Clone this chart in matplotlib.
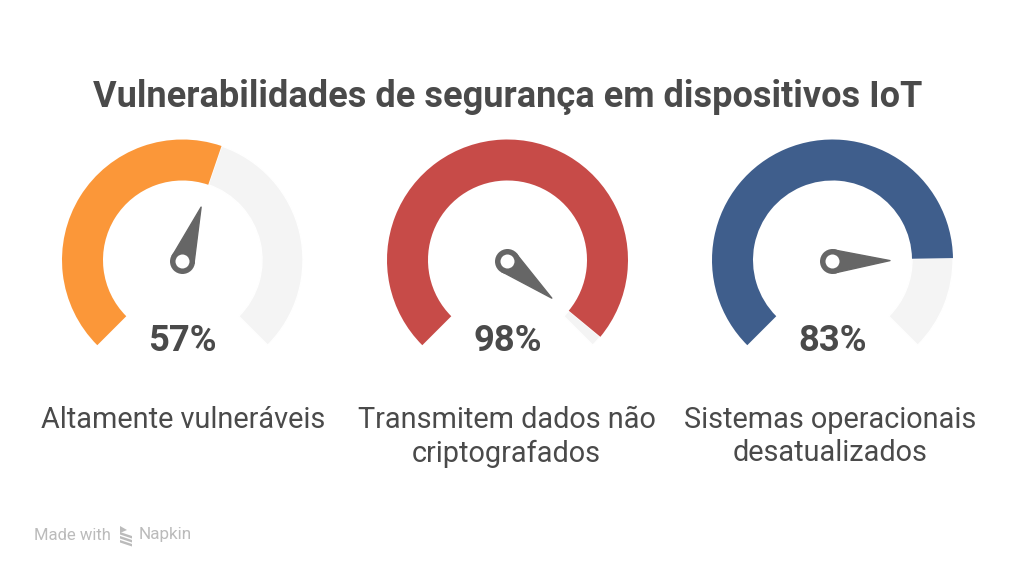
import numpy as np
import matplotlib
matplotlib.use('Agg')
import matplotlib.pyplot as plt
from matplotlib.patches import Wedge, Circle, Polygon

title = 'Vulnerabilidades de segurança em dispositivos IoT'
values = [57, 98, 83]
labels = ['Altamente vulneráveis', 'Transmitem dados não\ncriptografados', 'Sistemas operacionais\ndesatualizados']
colors = ['#FB9739', '#C74B48', '#3F5E8C']

text_color = '#4A4A4A'
needle_color = '#666666'
track_color = '#F4F4F4'
footer_color = '#BBBBBB'
H = 574

plt.rcParams['font.family'] = ['Roboto', 'DejaVu Sans']

fig = plt.figure(figsize=(10.24, 5.74), dpi=100)
ax = fig.add_axes([0, 0, 1, 1])
ax.set_xlim(0, 1024)
ax.set_ylim(0, H)
ax.axis('off')


def value_angle(v):
    return 225 - v / 100 * 270


def draw_gauge(cx, lx, v, color, label):
    cy = H - 260
    a = value_angle(v)
    ax.add_patch(Wedge((cx, cy), 120.5, -45, a, width=41, fc=track_color, ec='white', lw=1))
    ax.add_patch(Wedge((cx, cy), 120.5, a, 225, width=41, fc=color, ec='none'))
    # needle
    hx, hy = cx, cy - 1.5
    t = np.radians(a)
    d = np.array([np.cos(t), np.sin(t)])
    n = np.array([-d[1], d[0]])
    hub = np.array([hx, hy])
    ax.add_patch(Polygon([hub + d * 57.5, hub + n * 11.5 + d * 2, hub - n * 11.5 + d * 2],
                         closed=True, fc=needle_color, ec=needle_color, lw=1, joinstyle='round'))
    ax.add_patch(Circle((hx, hy), 12.5, fc=needle_color, ec='none'))
    ax.add_patch(Circle((hx, hy), 7, fc='white', ec='none'))
    ax.text(cx, H - 341, '%d%%' % v, ha='center', va='center', fontsize=26.2,
            fontweight='bold', color=text_color)
    ax.text(lx, H - 406, label, ha='center', va='top', fontsize=20.8, color=text_color,
            linespacing=1.24)


for cx, lx, v, c, l in zip([182.5, 507.5, 832.5], [183, 506.5, 830.5], values, colors, labels):
    draw_gauge(cx, lx, v, c, l)

ax.text(507.5, H - 97, title, ha='center', va='center', fontsize=26, fontweight='bold', color=text_color)

# footer
ax.text(34, H - 535, 'Made with', ha='left', va='center', fontsize=12, color=footer_color)
ax.text(139, H - 535, 'Napkin', ha='left', va='center', fontsize=12.3, color=footer_color)
ax.add_patch(Polygon([(120, H - 526), (127, H - 530), (120, H - 533)], closed=True, fc=footer_color, ec='none'))
for y0 in [533, 537, 541]:
    ax.add_patch(Polygon([(120, H - y0 + 1), (132, H - y0 - 3), (132, H - y0 - 5.5), (120, H - y0 - 1.5)],
                         closed=True, fc=footer_color, ec='none'))

fig.savefig('out.png', dpi=100, facecolor='white')
